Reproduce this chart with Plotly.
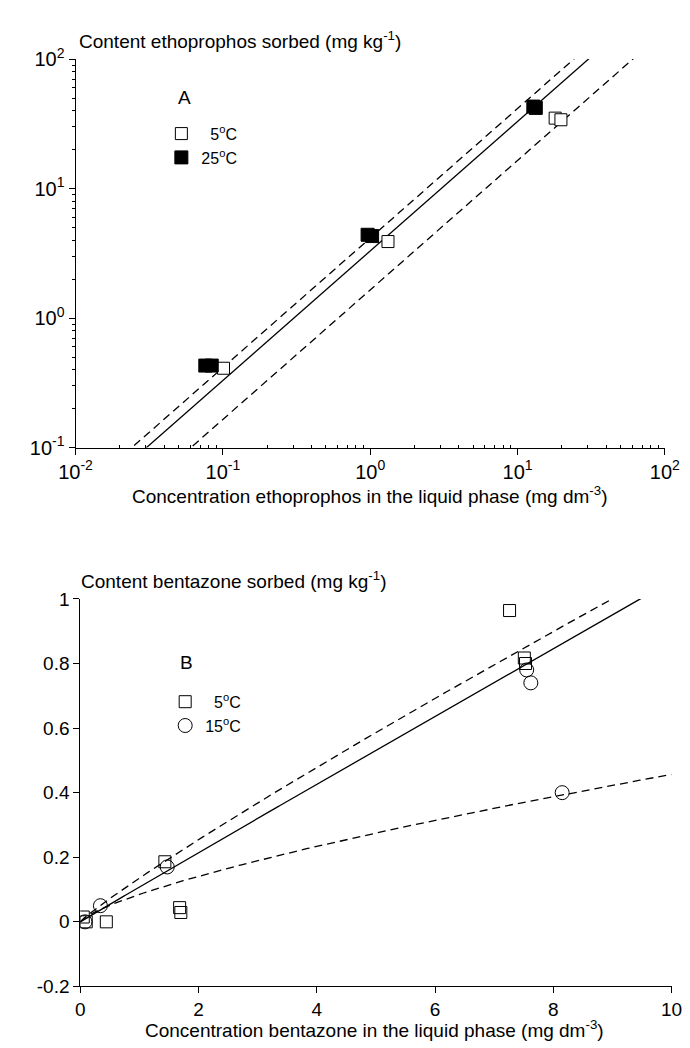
import numpy as np
import plotly.graph_objects as go

# ---------------- data: panel A (ethoprophos, log-log) ----------------
a_5c_x = [0.101, 1.32, 18.0, 19.7]
a_5c_y = [0.41, 3.9, 35.0, 34.0]
a_25c_x = [0.076, 0.084, 0.96, 1.03, 12.8, 13.3]
a_25c_y = [0.43, 0.43, 4.4, 4.3, 43.0, 42.0]
# Freundlich lines  y = K * x^n  (solid, upper dashed, lower dashed)
a_line_K = [3.3, 4.15, 1.65]
a_line_n = [1.0, 1.0, 1.0]
a_line_dash = ["solid", "8px,5px", "8px,5px"]

a_tickvals = [0.01, 0.1, 1, 10, 100]
a_xticktext = ["10<sup>-2</sup>", "10<sup>-1</sup>", "10<sup>0</sup>", "10<sup>1</sup>", "10<sup>2</sup>"]
a_ytickvals = [0.1, 1, 10, 100]
a_yticktext = ["10<sup>-1</sup>", "10<sup>0</sup>", "10<sup>1</sup>", "10<sup>2</sup>"]

# ---------------- data: panel B (bentazone, linear) ----------------
b_5c_x = [0.05, 0.10, 0.44, 1.43, 1.68, 1.70, 7.26, 7.51, 7.53]
b_5c_y = [0.015, 0.0, 0.0, 0.186, 0.044, 0.029, 0.964, 0.817, 0.80]
b_15c_x = [0.08, 0.34, 1.47, 7.55, 7.62, 8.15]
b_15c_y = [0.0, 0.05, 0.17, 0.78, 0.74, 0.40]
b_line_K = [0.108, 0.1355, 0.085]
b_line_n = [0.99, 0.91, 0.73]
b_line_dash = ["solid", "8px,5px", "8px,5px"]

b_xtickvals = [0, 2, 4, 6, 8, 10]
b_ytickvals = [-0.2, 0, 0.2, 0.4, 0.6, 0.8, 1]
b_yticktext = ["-0.2", "0", "0.2", "0.4", "0.6", "0.8", "1"]

W, H = 690, 1048
FONT = "Liberation Sans, Arial, Helvetica, sans-serif"
FS = 19

def px_x(p):
    return p / W

def px_y(p):
    return 1 - p / H

# minor (2..9) log tick positions inside each decade
minor_x = [m * 10.0 ** e for e in range(-2, 2) for m in range(2, 10)]
minor_y = [m * 10.0 ** e for e in range(-1, 2) for m in range(2, 10)]

fig = go.Figure()

# panel A lines
xa = np.logspace(-2, 2, 200)
for K, n, d in zip(a_line_K, a_line_n, a_line_dash):
    fig.add_trace(go.Scatter(x=xa, y=K * xa ** n, mode="lines",
                             line=dict(color="black", width=1.3, dash=d),
                             showlegend=False, xaxis="x", yaxis="y", hoverinfo="skip"))
# panel A markers
fig.add_trace(go.Scatter(x=a_5c_x, y=a_5c_y, mode="markers", name="\u20075<sup>o</sup>C",
                         marker=dict(symbol="square", size=12, color="white",
                                     line=dict(color="black", width=1)),
                         xaxis="x", yaxis="y", legend="legend"))
fig.add_trace(go.Scatter(x=a_25c_x, y=a_25c_y, mode="markers", name="25<sup>o</sup>C",
                         marker=dict(symbol="square", size=13, color="black",
                                     line=dict(color="black", width=1)),
                         xaxis="x", yaxis="y", legend="legend"))

# panel B lines
xb = np.linspace(0, 10, 300)
for K, n, d in zip(b_line_K, b_line_n, b_line_dash):
    fig.add_trace(go.Scatter(x=xb, y=K * xb ** n, mode="lines",
                             line=dict(color="black", width=1.3, dash=d),
                             showlegend=False, xaxis="x2", yaxis="y2", hoverinfo="skip"))
fig.add_trace(go.Scatter(x=b_5c_x, y=b_5c_y, mode="markers", name="\u20075<sup>o</sup>C",
                         marker=dict(symbol="square", size=12, color="rgba(0,0,0,0)",
                                     line=dict(color="black", width=1)),
                         xaxis="x2", yaxis="y2", legend="legend2"))
fig.add_trace(go.Scatter(x=b_15c_x, y=b_15c_y, mode="markers", name="15<sup>o</sup>C",
                         marker=dict(symbol="circle", size=14, color="rgba(0,0,0,0)",
                                     line=dict(color="black", width=1)),
                         xaxis="x2", yaxis="y2", legend="legend2"))

axis_common = dict(showline=True, linecolor="black", linewidth=1, showgrid=False,
                   zeroline=False, ticks="outside", ticklen=6, tickcolor="black",
                   tickfont=dict(family=FONT, size=FS, color="black"), mirror=False)

fig.update_layout(
    width=W, height=H,
    margin=dict(l=0, r=0, t=0, b=0),
    paper_bgcolor="white", plot_bgcolor="white",
    font=dict(family=FONT, size=FS, color="black"),
    xaxis=dict(axis_common, type="log", range=[-2, 2], domain=[px_x(53), px_x(671)],
               tickmode="array", tickvals=a_tickvals, ticktext=a_xticktext, anchor="y",
               tickfont=dict(family=FONT, size=20, color="black"),
               minor=dict(tickmode="array", tickvals=minor_x, ticks="inside", ticklen=3,
                          tickcolor="black", showgrid=False)),
    yaxis=dict(axis_common, type="log", range=[-1, 2], domain=[px_y(436), px_y(38)],
               tickmode="array", tickvals=a_ytickvals, ticktext=a_yticktext, anchor="x",
               tickfont=dict(family=FONT, size=20, color="black"),
               minor=dict(tickmode="array", tickvals=minor_y, ticks="outside", ticklen=3,
                          tickcolor="black", showgrid=False)),
    xaxis2=dict(axis_common, range=[0, 10], domain=[px_x(58), px_x(678)],
                tickmode="array", tickvals=b_xtickvals, anchor="y2"),
    yaxis2=dict(axis_common, range=[-0.2, 1], domain=[px_y(988), px_y(591)],
                tickmode="array", tickvals=b_ytickvals, ticktext=b_yticktext, anchor="x2"),
    legend=dict(x=px_x(143), y=px_y(97), xanchor="left", yanchor="top",
                bgcolor="rgba(0,0,0,0)", font=dict(family=FONT, size=16),
                tracegroupgap=0),
    legend2=dict(x=px_x(147), y=px_y(679), xanchor="left", yanchor="top",
                 bgcolor="rgba(0,0,0,0)", font=dict(family=FONT, size=16),
                 tracegroupgap=0),
)

annotations = [
    dict(text="Content ethoprophos sorbed (mg kg<sup>-1</sup>)", x=px_x(55), y=px_y(18),
         xanchor="left", yanchor="middle"),
    dict(text="Concentration ethoprophos in the liquid phase (mg dm<sup>-3</sup>)",
         x=px_x(362), y=px_y(485), xanchor="center", yanchor="middle"),
    dict(text="A", x=px_x(167), y=px_y(77), xanchor="center", yanchor="middle"),
    dict(text="Content bentazone sorbed (mg kg<sup>-1</sup>)", x=px_x(57), y=px_y(572),
         xanchor="left", yanchor="middle"),
    dict(text="Concentration bentazone in the liquid phase (mg dm<sup>-3</sup>)",
         x=px_x(366), y=px_y(1032), xanchor="center", yanchor="middle"),
    dict(text="B", x=px_x(169), y=px_y(656), xanchor="center", yanchor="middle"),
]
for a in annotations:
    a.update(xref="paper", yref="paper", showarrow=False,
             font=dict(family=FONT, size=FS, color="black"))
fig.update_layout(annotations=annotations)

fig.write_html("out.html")
